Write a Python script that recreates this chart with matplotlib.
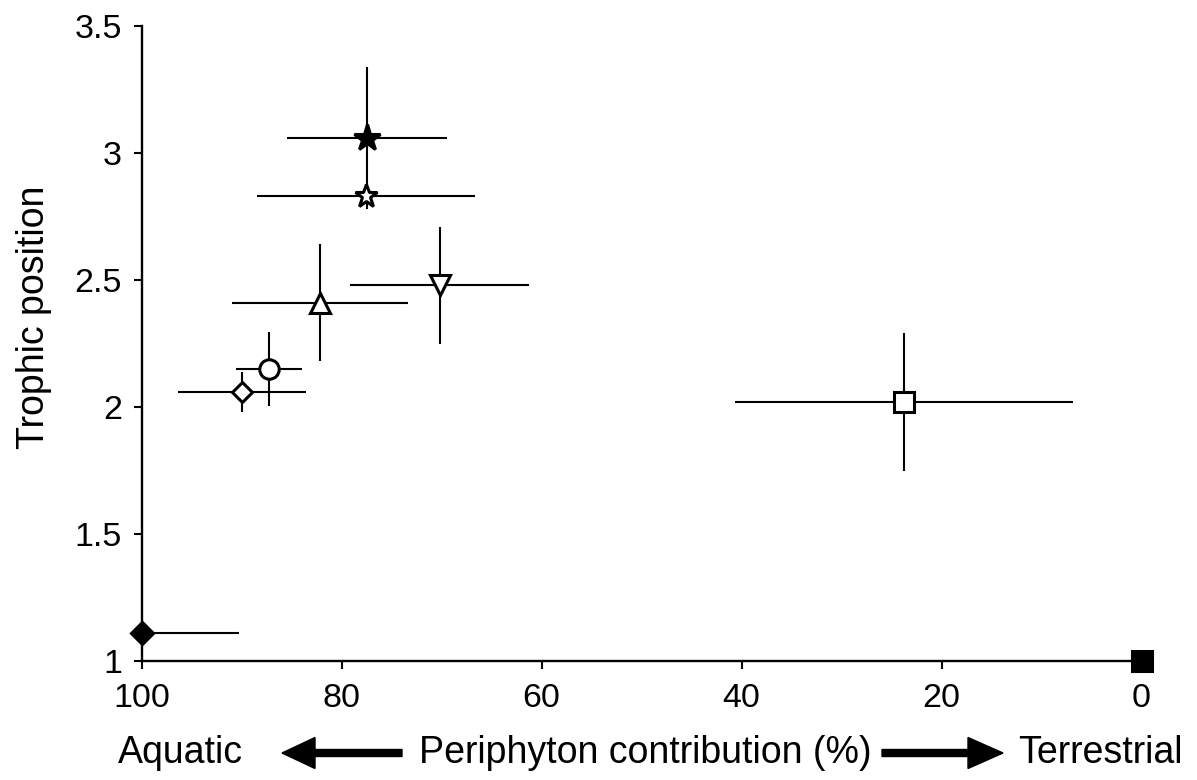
import matplotlib
matplotlib.use("Agg")
import matplotlib.pyplot as plt
import matplotlib.patches as mpatches

plt.rcParams['font.family'] = ['Liberation Sans', 'DejaVu Sans']

# Data
groups = ["filled star", "open star", "triangle up", "triangle down", "circle",
          "open diamond", "open square", "filled diamond", "filled square"]
periphyton = [77.5, 77.6, 82.2, 70.2, 87.3, 90.0, 23.8, 100.0, 0.0]
periphyton_err = [8.0, 10.9, 8.8, 8.95, 3.3, 6.4, 16.9, 9.7, 0.0]
trophic = [3.06, 2.83, 2.41, 2.48, 2.15, 2.06, 2.02, 1.11, 1.0]
trophic_err = [0.28, 0.03, 0.23, 0.23, 0.145, 0.078, 0.27, 0.0, 0.0]

markers = ['*', '*', '^', 'v', 'o', 'D', 's', 'D', 's']
sizes = [20, 17, 14, 14, 14, 10, 14, 11, 15]
faces = ['black', 'white', 'white', 'white', 'white', 'white', 'white', 'black', 'black']

x_ticks = [100, 80, 60, 40, 20, 0]
x_ticklabels = ["100", "80", "60", "40", "20", "0"]
y_ticks = [1, 1.5, 2, 2.5, 3, 3.5]
y_ticklabels = ["1", "1.5", "2", "2.5", "3", "3.5"]

W, H = 1197, 780
fig = plt.figure(figsize=(W / 100, H / 100), dpi=100)
ax = fig.add_axes([141.5 / W, (H - 661) / H, 1000 / W, 635 / H])

ax.errorbar(periphyton, trophic, xerr=periphyton_err, yerr=trophic_err,
            fmt='none', ecolor='black', elinewidth=1.5, capsize=0, zorder=2)
for xi, yi, m, s, f in zip(periphyton, trophic, markers, sizes, faces):
    ax.plot([xi], [yi], linestyle='none', marker=m, markersize=s,
            markerfacecolor=f, markeredgecolor='black', markeredgewidth=2.2,
            clip_on=False, zorder=3)

ax.set_xlim(100, 0)
ax.set_ylim(1, 3.5)
ax.set_xticks(x_ticks)
ax.set_xticklabels(x_ticklabels)
ax.set_yticks(y_ticks)
ax.set_yticklabels(y_ticklabels)
ax.spines['top'].set_visible(False)
ax.spines['right'].set_visible(False)
for sp in ('left', 'bottom'):
    ax.spines[sp].set_linewidth(1.7)
ax.tick_params(axis='both', direction='out', length=6, width=1.5, labelsize=24.5)
ax.tick_params(axis='x', pad=10)
ax.tick_params(axis='y', pad=8)

# Y label
fig.text(34 / W, (H - 317) / H, "Trophic position", rotation=90,
         ha='center', va='center', fontsize=27)

# Bottom annotation row
base_y = (H - 763) / H
fig.text(118 / W, base_y, "Aquatic", ha='left', va='baseline', fontsize=27)
fig.text(645 / W, base_y, "Periphyton contribution (%)", ha='center', va='baseline', fontsize=27)
fig.text(1018 / W, base_y, "Terrestrial", ha='left', va='baseline', fontsize=27)

ay = (H - 753) / 100
left_arrow = mpatches.FancyArrow(402 / 100, ay, -120 / 100, 0, width=7 / 100,
                                 head_width=31 / 100, head_length=33 / 100,
                                 length_includes_head=True, color='black',
                                 transform=fig.dpi_scale_trans)
right_arrow = mpatches.FancyArrow(882 / 100, ay, 121 / 100, 0, width=7 / 100,
                                  head_width=31 / 100, head_length=35 / 100,
                                  length_includes_head=True, color='black',
                                  transform=fig.dpi_scale_trans)
fig.patches.extend([left_arrow, right_arrow])

fig.savefig("out.png", dpi=100)
